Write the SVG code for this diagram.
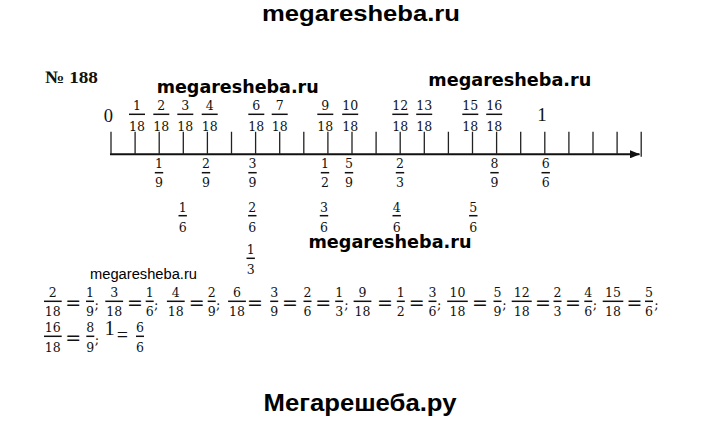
<svg xmlns="http://www.w3.org/2000/svg" width="720" height="423" viewBox="0 0 720 423">
<style>
.f{font-family:"DejaVu Serif",serif;font-size:12.5px;text-anchor:middle;fill:#111}
.b{stroke:#111;stroke-width:1.5}
.eq{font-family:"DejaVu Sans",sans-serif;font-size:19px;text-anchor:middle;fill:#111}
.sc{font-family:"DejaVu Serif",serif;font-size:13px;text-anchor:middle;fill:#111}
.tm{font-family:"Liberation Serif",serif;fill:#111;text-anchor:middle}
.wm{font-family:"DejaVu Sans",sans-serif;font-weight:bold;font-size:17px;fill:#000}
.wb{font-family:"Liberation Sans",Arial,sans-serif;font-weight:bold;fill:#000;text-anchor:middle}
.tick{stroke:#222;stroke-width:1.3;fill:none}
</style>
<defs>
<marker id="arr" viewBox="0 0 10 8" refX="9.5" refY="4" markerWidth="10" markerHeight="8" markerUnits="userSpaceOnUse" orient="auto">
<path d="M0,0 L10,4 L0,8 Z" fill="#111"/>
</marker>
</defs>
<rect width="720" height="423" fill="#fff"/>

<g id="watermarks">
<text class="wb" x="361" y="21" font-size="22.5" textLength="198" lengthAdjust="spacingAndGlyphs">megaresheba.ru</text>
<text class="wm" x="156.7" y="92.5" font-size="16.5" textLength="162" lengthAdjust="spacingAndGlyphs">megaresheba.ru</text>
<text class="wm" x="428.3" y="85.5" font-size="16.5" textLength="163" lengthAdjust="spacingAndGlyphs">megaresheba.ru</text>
<text class="wm" x="308.5" y="248" font-size="17" textLength="163" lengthAdjust="spacingAndGlyphs">megaresheba.ru</text>
<text x="90" y="278.5" font-family="Liberation Sans,Arial,sans-serif" font-size="14" fill="#000" textLength="107" lengthAdjust="spacingAndGlyphs">megaresheba.ru</text>
<text class="wb" x="360" y="410.7" font-size="23.3" textLength="193" lengthAdjust="spacingAndGlyphs">Мегарешеба.ру</text>
</g>

<g id="title">
<text x="45" y="83.3" font-family="Liberation Serif,serif" font-weight="bold" font-size="17.5" fill="#111" textLength="53" lengthAdjust="spacingAndGlyphs">№ 188</text>
</g>

<g id="connectors">
<line x1="110" y1="154.3" x2="639.5" y2="154.3" stroke="#111" stroke-width="2" marker-end="url(#arr)"/>
<path class="tick" d="M111,131.7V154.3M135.1,131.7V154.3M159.2,131.7V154.3M183.3,131.7V154.3M207.4,131.7V154.3M231.5,131.7V154.3M255.6,131.7V154.3M279.7,131.7V154.3M303.8,131.7V154.3M327.9,131.7V154.3M352,131.7V154.3M376.1,131.7V154.3M400.2,131.7V154.3M424.3,131.7V154.3M448.4,131.7V154.3M472.5,131.7V154.3M496.6,131.7V154.3M520.7,131.7V154.3M544.8,131.7V154.3M568.9,131.7V154.3M593,131.7V154.3M617.1,131.7V154.3M641.2,131.7V156.7"/>
</g>

<g id="axis-labels">
<text class="tm" x="108.3" y="121.7" font-size="18.5">0</text>
<text class="tm" x="542" y="121" font-size="19">1</text>
</g>

<g id="top-fractions">
<text class="f" x="137" y="109.5">1</text><line class="b" x1="129" y1="114.3" x2="145" y2="114.3"/><text class="f" x="137" y="131">18</text>
<text class="f" x="161.3" y="109.5">2</text><line class="b" x1="153.3" y1="114.3" x2="169.3" y2="114.3"/><text class="f" x="161.3" y="131">18</text>
<text class="f" x="185.3" y="109.5">3</text><line class="b" x1="177.3" y1="114.3" x2="193.3" y2="114.3"/><text class="f" x="185.3" y="131">18</text>
<text class="f" x="209.7" y="109.5">4</text><line class="b" x1="201.7" y1="114.3" x2="217.7" y2="114.3"/><text class="f" x="209.7" y="131">18</text>
<text class="f" x="256.3" y="109.5">6</text><line class="b" x1="248.3" y1="114.3" x2="264.3" y2="114.3"/><text class="f" x="256.3" y="131">18</text>
<text class="f" x="279.7" y="109.5">7</text><line class="b" x1="271.7" y1="114.3" x2="287.7" y2="114.3"/><text class="f" x="279.7" y="131">18</text>
<text class="f" x="325.3" y="109.5">9</text><line class="b" x1="317.3" y1="114.3" x2="333.3" y2="114.3"/><text class="f" x="325.3" y="131">18</text>
<text class="f" x="350.2" y="109.5">10</text><line class="b" x1="342.2" y1="114.3" x2="358.2" y2="114.3"/><text class="f" x="350.2" y="131">18</text>
<text class="f" x="400.3" y="109.5">12</text><line class="b" x1="392.3" y1="114.3" x2="408.3" y2="114.3"/><text class="f" x="400.3" y="131">18</text>
<text class="f" x="424.2" y="109.5">13</text><line class="b" x1="416.2" y1="114.3" x2="432.2" y2="114.3"/><text class="f" x="424.2" y="131">18</text>
<text class="f" x="470.3" y="109.5">15</text><line class="b" x1="462.3" y1="114.3" x2="478.3" y2="114.3"/><text class="f" x="470.3" y="131">18</text>
<text class="f" x="494.2" y="109.5">16</text><line class="b" x1="486.2" y1="114.3" x2="502.2" y2="114.3"/><text class="f" x="494.2" y="131">18</text>
</g>

<g id="ninths">
<text class="f" x="159" y="168.3">1</text><line class="b" x1="154.8" y1="172.7" x2="163.2" y2="172.7"/><text class="f" x="159" y="187.3">9</text>
<text class="f" x="206" y="168.3">2</text><line class="b" x1="201.8" y1="172.7" x2="210.2" y2="172.7"/><text class="f" x="206" y="187.3">9</text>
<text class="f" x="252.5" y="168.3">3</text><line class="b" x1="248.3" y1="172.7" x2="256.7" y2="172.7"/><text class="f" x="252.5" y="187.3">9</text>
<text class="f" x="325" y="168.3">1</text><line class="b" x1="320.8" y1="172.7" x2="329.2" y2="172.7"/><text class="f" x="325" y="187.3">2</text>
<text class="f" x="349" y="168.3">5</text><line class="b" x1="344.8" y1="172.7" x2="353.2" y2="172.7"/><text class="f" x="349" y="187.3">9</text>
<text class="f" x="400" y="168.3">2</text><line class="b" x1="395.8" y1="172.7" x2="404.2" y2="172.7"/><text class="f" x="400" y="187.3">3</text>
<text class="f" x="494.5" y="168.3">8</text><line class="b" x1="490.3" y1="172.7" x2="498.7" y2="172.7"/><text class="f" x="494.5" y="187.3">9</text>
<text class="f" x="545.7" y="168.3">6</text><line class="b" x1="541.5" y1="172.7" x2="549.9" y2="172.7"/><text class="f" x="545.7" y="187.3">6</text>
</g>

<g id="sixths">
<text class="f" x="182.7" y="211.5">1</text><line class="b" x1="178.5" y1="215.7" x2="186.9" y2="215.7"/><text class="f" x="182.7" y="231.5">6</text>
<text class="f" x="252.3" y="211.5">2</text><line class="b" x1="248.1" y1="215.7" x2="256.5" y2="215.7"/><text class="f" x="252.3" y="231.5">6</text>
<text class="f" x="324" y="211.5">3</text><line class="b" x1="319.8" y1="215.7" x2="328.2" y2="215.7"/><text class="f" x="324" y="231.5">6</text>
<text class="f" x="396.7" y="211.5">4</text><line class="b" x1="392.5" y1="215.7" x2="400.9" y2="215.7"/><text class="f" x="396.7" y="231.5">6</text>
<text class="f" x="473.3" y="211.5">5</text><line class="b" x1="469.1" y1="215.7" x2="477.5" y2="215.7"/><text class="f" x="473.3" y="231.5">6</text>
</g>

<g id="third">
<text class="f" x="250.7" y="254">1</text><line class="b" x1="246.5" y1="258.3" x2="254.9" y2="258.3"/><text class="f" x="250.7" y="274">3</text>
</g>

<g id="equations-line1">
<text class="f" x="52.8" y="297">2</text><line class="b" x1="44" y1="301.3" x2="61.7" y2="301.3"/><text class="f" x="52.8" y="316.3">18</text>
<text class="eq" x="73.3" y="309.3">=</text>
<text class="f" x="90" y="297">1</text><line class="b" x1="86" y1="301.3" x2="94" y2="301.3"/><text class="f" x="90" y="316.3">9</text>
<text class="sc" x="96.7" y="309">;</text>
<text class="f" x="114.2" y="297">3</text><line class="b" x1="105.3" y1="301.3" x2="123.1" y2="301.3"/><text class="f" x="114.2" y="316.3">18</text>
<text class="eq" x="135" y="309.3">=</text>
<text class="f" x="149.7" y="297">1</text><line class="b" x1="145.7" y1="301.3" x2="153.7" y2="301.3"/><text class="f" x="149.7" y="316.3">6</text>
<text class="sc" x="156.3" y="309">;</text>
<text class="f" x="175.8" y="297">4</text><line class="b" x1="166.9" y1="301.3" x2="184.7" y2="301.3"/><text class="f" x="175.8" y="316.3">18</text>
<text class="eq" x="196.7" y="309.3">=</text>
<text class="f" x="211.7" y="297">2</text><line class="b" x1="207.7" y1="301.3" x2="215.7" y2="301.3"/><text class="f" x="211.7" y="316.3">9</text>
<text class="sc" x="218.3" y="309">;</text>
<text class="f" x="237" y="297">6</text><line class="b" x1="228.1" y1="301.3" x2="245.9" y2="301.3"/><text class="f" x="237" y="316.3">18</text>
<text class="eq" x="255" y="309.3">=</text>
<text class="f" x="274.2" y="297">3</text><line class="b" x1="270.2" y1="301.3" x2="278.2" y2="301.3"/><text class="f" x="274.2" y="316.3">9</text>
<text class="eq" x="290" y="309.3">=</text>
<text class="f" x="307.5" y="297">2</text><line class="b" x1="303.5" y1="301.3" x2="311.5" y2="301.3"/><text class="f" x="307.5" y="316.3">6</text>
<text class="eq" x="323.3" y="309.3">=</text>
<text class="f" x="339.2" y="297">1</text><line class="b" x1="335.2" y1="301.3" x2="343.2" y2="301.3"/><text class="f" x="339.2" y="316.3">3</text>
<text class="sc" x="346.5" y="309">;</text>
<text class="f" x="362.5" y="297">9</text><line class="b" x1="353.6" y1="301.3" x2="371.4" y2="301.3"/><text class="f" x="362.5" y="316.3">18</text>
<text class="eq" x="385" y="309.3">=</text>
<text class="f" x="400.8" y="297">1</text><line class="b" x1="396.8" y1="301.3" x2="404.8" y2="301.3"/><text class="f" x="400.8" y="316.3">2</text>
<text class="eq" x="416.7" y="309.3">=</text>
<text class="f" x="432.5" y="297">3</text><line class="b" x1="428.5" y1="301.3" x2="436.5" y2="301.3"/><text class="f" x="432.5" y="316.3">6</text>
<text class="sc" x="439.3" y="309">;</text>
<text class="f" x="457.5" y="297">10</text><line class="b" x1="447.2" y1="301.3" x2="467.8" y2="301.3"/><text class="f" x="457.5" y="316.3">18</text>
<text class="eq" x="480" y="309.3">=</text>
<text class="f" x="497.5" y="297">5</text><line class="b" x1="493.5" y1="301.3" x2="501.5" y2="301.3"/><text class="f" x="497.5" y="316.3">9</text>
<text class="sc" x="504.5" y="309">;</text>
<text class="f" x="521.7" y="297">12</text><line class="b" x1="511.7" y1="301.3" x2="531.7" y2="301.3"/><text class="f" x="521.7" y="316.3">18</text>
<text class="eq" x="543" y="309.3">=</text>
<text class="f" x="557.5" y="297">2</text><line class="b" x1="553.5" y1="301.3" x2="561.5" y2="301.3"/><text class="f" x="557.5" y="316.3">3</text>
<text class="eq" x="573" y="309.3">=</text>
<text class="f" x="588.3" y="297">4</text><line class="b" x1="584.3" y1="301.3" x2="592.3" y2="301.3"/><text class="f" x="588.3" y="316.3">6</text>
<text class="sc" x="595" y="309">;</text>
<text class="f" x="613" y="297">15</text><line class="b" x1="602.7" y1="301.3" x2="623.3" y2="301.3"/><text class="f" x="613" y="316.3">18</text>
<text class="eq" x="634.5" y="309.3">=</text>
<text class="f" x="649" y="297">5</text><line class="b" x1="645" y1="301.3" x2="653" y2="301.3"/><text class="f" x="649" y="316.3">6</text>
<text class="sc" x="656.5" y="309">;</text>
</g>

<g id="equations-line2">
<text class="f" x="52.8" y="332">16</text><line class="b" x1="44" y1="336.3" x2="61.7" y2="336.3"/><text class="f" x="52.8" y="351.6">18</text>
<text class="eq" x="73.3" y="344.3">=</text>
<text class="f" x="90.3" y="332">8</text><line class="b" x1="86.3" y1="336.3" x2="94.3" y2="336.3"/><text class="f" x="90.3" y="351.6">9</text>
<text class="sc" x="96.9" y="344">;</text>
<text class="tm" x="109.7" y="335.3" font-size="20.5">1</text>
<text class="tm" x="122.5" y="342" font-size="20">=</text>
<text class="f" x="140" y="332">6</text><line class="b" x1="136" y1="336.3" x2="144" y2="336.3"/><text class="f" x="140" y="351.6">6</text>
</g>
</svg>
